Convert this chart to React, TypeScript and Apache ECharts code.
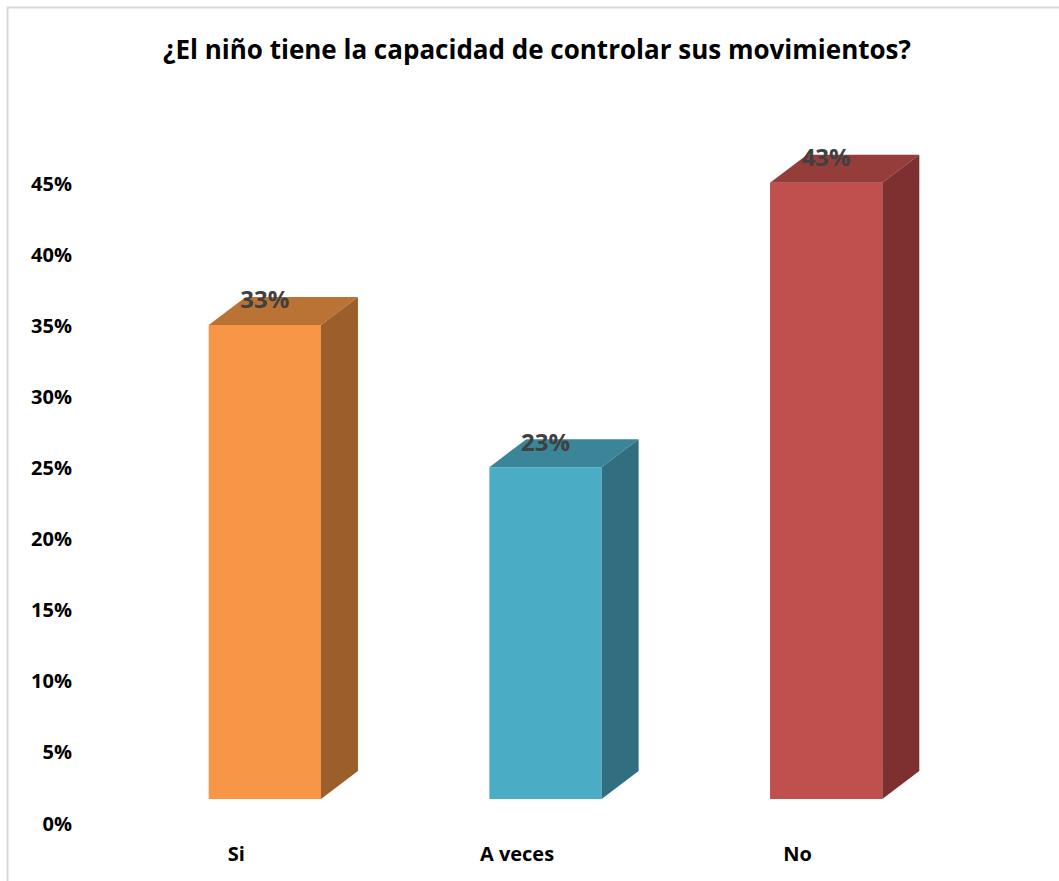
import React, { useEffect, useRef } from "react";
import * as echarts from "echarts";

const categories = ["Si", "A veces", "No"];
const values = [33.33, 23.33, 43.33];
const valueLabels = ["33%", "23%", "43%"];
const yTicks = [0, 5, 10, 15, 20, 25, 30, 35, 40, 45];
const frontColors = ["#F79646", "#4BACC6", "#C0504D"];
const topColors = ["#BB7235", "#3A8598", "#943D3B"];
const sideColors = ["#9C5E2B", "#316F80", "#7D302F"];

const TITLE = "¿El niño tiene la capacidad de controlar sus movimientos?";
const FONT = "'Open Sans', 'Liberation Sans', sans-serif";

export default function App() {
  const ref = useRef<HTMLDivElement>(null);
  useEffect(() => {
    if (!ref.current) return;
    const chart = echarts.init(ref.current, null, { renderer: "svg" });
    const option: any = {
      animation: false,
      backgroundColor: "#ffffff",
      graphic: [
        {
          type: "rect",
          shape: { x: 7.5, y: 7.5, width: 1200, height: 1000 },
          style: { fill: "none", stroke: "#d9d9d9", lineWidth: 2 },
          silent: true,
          z: 0,
        },
        {
          type: "text",
          x: 537,
          y: 49,
          style: {
            text: TITLE,
            fill: "#000000",
            font: `bold 26px ${FONT}`,
            textAlign: "center",
            textVerticalAlign: "middle",
          },
        },
      ],
      grid: { left: 96, right: 121, top: 183, bottom: 58, containLabel: false },
      xAxis: {
        type: "category",
        data: categories,
        axisLine: { show: false },
        axisTick: { show: false },
        axisLabel: {
          color: "#000000",
          fontFamily: FONT,
          fontWeight: "bold",
          fontSize: 20,
          margin: 20,
        },
      },
      yAxis: {
        type: "value",
        min: yTicks[0],
        max: yTicks[yTicks.length - 1],
        interval: 5,
        splitLine: { show: false },
        axisLine: { show: false },
        axisTick: { show: false },
        axisLabel: {
          formatter: "{value}%",
          color: "#000000",
          fontFamily: FONT,
          fontWeight: "bold",
          fontSize: 20,
          margin: 24,
        },
      },
      series: [
        {
          type: "custom",
          clip: false,
          data: values.map((v, i) => [i, v]),
          encode: { x: 0, y: 1 },
          renderItem: (params: any, api: any) => {
            const idx = api.value(0);
            const v = api.value(1);
            const base = api.coord([idx, 0]);
            const top = api.coord([idx, v]);
            const bw = api.size([1, 0])[0] * 0.4;
            const cx = base[0] + 28.5;
            const lift = 24;
            const dx = 37;
            const dy = 28;
            const x0 = cx - bw / 2;
            const x1 = cx + bw / 2;
            const yb = base[1] - lift;
            const yt = top[1] - lift;
            return {
              type: "group",
              children: [
                {
                  type: "polygon",
                  shape: { points: [[x0, yb], [x1, yb], [x1, yt], [x0, yt]] },
                  style: { fill: frontColors[idx] },
                },
                {
                  type: "polygon",
                  shape: { points: [[x0, yt], [x1, yt], [x1 + dx, yt - dy], [x0 + dx, yt - dy]] },
                  style: { fill: topColors[idx] },
                },
                {
                  type: "polygon",
                  shape: { points: [[x1, yb], [x1 + dx, yb - dy], [x1 + dx, yt - dy], [x1, yt]] },
                  style: { fill: sideColors[idx] },
                },
                {
                  type: "text",
                  x: cx,
                  y: yt - dy + 2,
                  style: {
                    text: valueLabels[idx],
                    fill: "#404040",
                    font: `bold 24px ${FONT}`,
                    textAlign: "center",
                    textVerticalAlign: "middle",
                  },
                },
              ],
            };
          },
        },
      ],
    };
    chart.setOption(option);
    return () => chart.dispose();
  }, []);
  return (
    <div
      ref={ref}
      style={{ position: "absolute", left: 0, top: 0, width: 1059, height: 881 }}
    />
  );
}
